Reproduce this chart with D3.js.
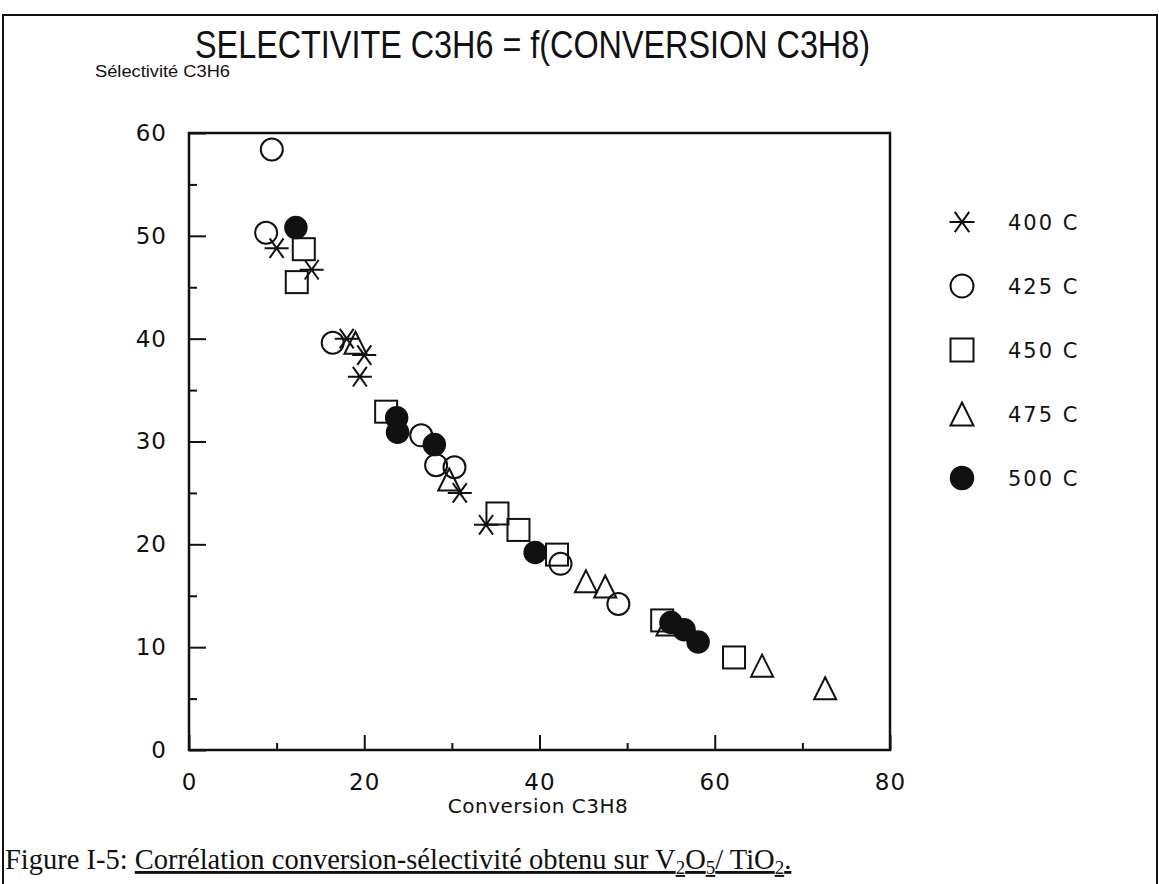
<!DOCTYPE html>
<html>
<head>
<meta charset="utf-8">
<script src="https://cdn.jsdelivr.net/npm/d3@7"></script>
<style>
  body { margin: 0; background: #fff; }
  text { fill: #111; }
</style>
</head>
<body>
<svg id="chart" width="1159" height="884"></svg>
<script>
// values
var seriesNames = ["400 C", "425 C", "450 C", "475 C", "500 C"];
var symbols = ["asterisk", "circle", "square", "triangle", "disc"];

var conv400 = [10.0, 14.0, 18.0, 20.0, 19.5, 30.9, 33.9];
var sel400  = [48.8, 46.7, 40.0, 38.4, 36.3, 25.0, 21.9];

var conv425 = [9.45, 8.8, 16.4, 26.5, 28.2, 30.3, 42.4, 49.0];
var sel425  = [58.4, 50.3, 39.6, 30.6, 27.7, 27.5, 18.1, 14.2];

var conv450 = [13.1, 12.3, 22.5, 35.2, 37.6, 42.0, 54.0, 62.2];
var sel450  = [48.7, 45.5, 32.9, 23.0, 21.4, 19.0, 12.6, 9.0];

var conv475 = [19.0, 29.7, 45.3, 47.5, 54.6, 65.4, 72.6];
var sel475  = [39.6, 26.3, 16.4, 15.9, 12.2, 8.2, 6.0];

var conv500 = [12.2, 23.7, 23.8, 28.0, 39.5, 55.0, 56.5, 58.1];
var sel500  = [50.8, 32.3, 30.9, 29.7, 19.2, 12.4, 11.7, 10.5];

var xMajor = [0, 20, 40, 60, 80];
var xMinor = [10, 30, 50, 70];
var yMajor = [0, 10, 20, 30, 40, 50, 60];
var yMinor = [5, 15, 25, 35, 45, 55];

var convs = [conv400, conv425, conv450, conv475, conv500];
var sels = [sel400, sel425, sel450, sel475, sel500];

var svg = d3.select("#chart");

var x = d3.scaleLinear().domain([0, 80]).range([189, 890]);
var y = d3.scaleLinear().domain([0, 60]).range([750, 133]);

// outer frame of the scanned page
svg.append("path")
  .attr("d", "M3,884 L3,15 L1157,15 L1157,884")
  .attr("fill", "none").attr("stroke", "#111").attr("stroke-width", 2);

// title + y label
svg.append("text")
  .attr("x", 195).attr("y", 58)
  .attr("textLength", 675).attr("lengthAdjust", "spacingAndGlyphs")
  .style("font-family", "Liberation Sans, Arial, sans-serif")
  .style("font-size", "38px")
  .text("SELECTIVITE C3H6 = f(CONVERSION C3H8)");

svg.append("text")
  .attr("x", 95).attr("y", 77)
  .attr("textLength", 135).attr("lengthAdjust", "spacingAndGlyphs")
  .style("font-family", "Liberation Sans, Arial, sans-serif")
  .style("font-size", "16px")
  .text("Sélectivité C3H6");

// axes
var tickFont = "DejaVu Sans, sans-serif";

svg.append("g").attr("transform", "translate(0,750)")
  .call(d3.axisBottom(x).tickValues(xMajor).tickSize(-15).tickPadding(24).tickFormat(d3.format("d")));
svg.append("g").attr("transform", "translate(0,750)")
  .call(d3.axisBottom(x).tickValues(xMinor).tickSize(-7).tickFormat(""));

svg.append("g").attr("transform", "translate(189,0)")
  .call(d3.axisLeft(y).tickValues(yMajor).tickSize(-17).tickPadding(22).tickFormat(d3.format("d")));
svg.append("g").attr("transform", "translate(189,0)")
  .call(d3.axisLeft(y).tickValues(yMinor).tickSize(-8).tickFormat(""));

svg.selectAll(".domain").remove();
svg.selectAll(".tick line").attr("stroke", "#111").attr("stroke-width", 2);
svg.selectAll(".tick text")
  .style("font-family", tickFont).style("font-size", "23px").style("letter-spacing", "1px").attr("fill", "#111");

svg.append("rect")
  .attr("x", x(0)).attr("y", y(60))
  .attr("width", x(80) - x(0)).attr("height", y(0) - y(60))
  .attr("fill", "none").attr("stroke", "#111").attr("stroke-width", 2.5);

svg.append("text")
  .attr("x", 538).attr("y", 813)
  .attr("text-anchor", "middle")
  .style("font-family", tickFont).style("font-size", "20px").style("letter-spacing", "0.5px")
  .text("Conversion C3H8");

// markers
function drawSymbol(g, kind, s) {
  var r = s / 2;
  if (kind == "circle") {
    g.append("circle").attr("r", r).attr("fill", "none").attr("stroke", "#111").attr("stroke-width", 2);
  } else if (kind == "disc") {
    g.append("circle").attr("r", r).attr("fill", "#111").attr("stroke", "#111").attr("stroke-width", 1.5);
  } else if (kind == "square") {
    g.append("rect").attr("x", -r).attr("y", -r).attr("width", s).attr("height", s)
      .attr("fill", "none").attr("stroke", "#111").attr("stroke-width", 2);
  } else if (kind == "triangle") {
    g.append("path").attr("d", "M0," + (-r) + " L" + r + "," + r + " L" + (-r) + "," + r + " Z")
      .attr("fill", "none").attr("stroke", "#111").attr("stroke-width", 2);
  } else {
    var a = r + 1;
    var dx = a * Math.cos(Math.PI / 3.3), dy = a * Math.sin(Math.PI / 3.3);
    g.append("path")
      .attr("d", "M" + (-a) + ",0 L" + a + ",0 M" + (-dx) + "," + (-dy) + " L" + dx + "," + dy +
                 " M" + (-dx) + "," + dy + " L" + dx + "," + (-dy))
      .attr("fill", "none").attr("stroke", "#111").attr("stroke-width", 2);
  }
}

var plot = svg.append("g");
seriesNames.forEach(function(name, i) {
  var pts = d3.zip(convs[i], sels[i]);
  plot.selectAll(".pt" + i)
    .data(pts)
    .enter()
    .append("g").attr("class", "pt" + i)
    .attr("transform", function(d) { return "translate(" + x(d[0]) + "," + y(d[1]) + ")"; })
    .each(function() { drawSymbol(d3.select(this), symbols[i], 22); });
});

// legend
var leg = svg.append("g");
var legY = d3.scalePoint().domain(seriesNames).range([222, 478]);
seriesNames.forEach(function(name, i) {
  var g = leg.append("g").attr("transform", "translate(962," + legY(name) + ")");
  drawSymbol(g, symbols[i], 23);
  leg.append("text")
    .attr("x", 1008).attr("y", legY(name)).attr("dy", "0.36em")
    .style("font-family", tickFont).style("font-size", "21px").style("letter-spacing", "2px")
    .text(name);
});

// caption
var cap = svg.append("text")
  .attr("x", 5).attr("y", 869)
  .style("font-family", "Liberation Serif, Times New Roman, serif")
  .style("font-size", "28.5px");
cap.append("tspan").text("Figure I-5: ");
var u = cap.append("tspan").style("text-decoration", "underline");
u.append("tspan").text("Corrélation conversion-sélectivité obtenu sur V");
u.append("tspan").attr("dy", 5).style("font-size", "19px").text("2");
u.append("tspan").attr("dy", -5).text("O");
u.append("tspan").attr("dy", 5).style("font-size", "19px").text("5");
u.append("tspan").attr("dy", -5).text("/ TiO");
u.append("tspan").attr("dy", 5).style("font-size", "19px").text("2");
u.append("tspan").attr("dy", -5).text(".");
</script>
</body>
</html>
